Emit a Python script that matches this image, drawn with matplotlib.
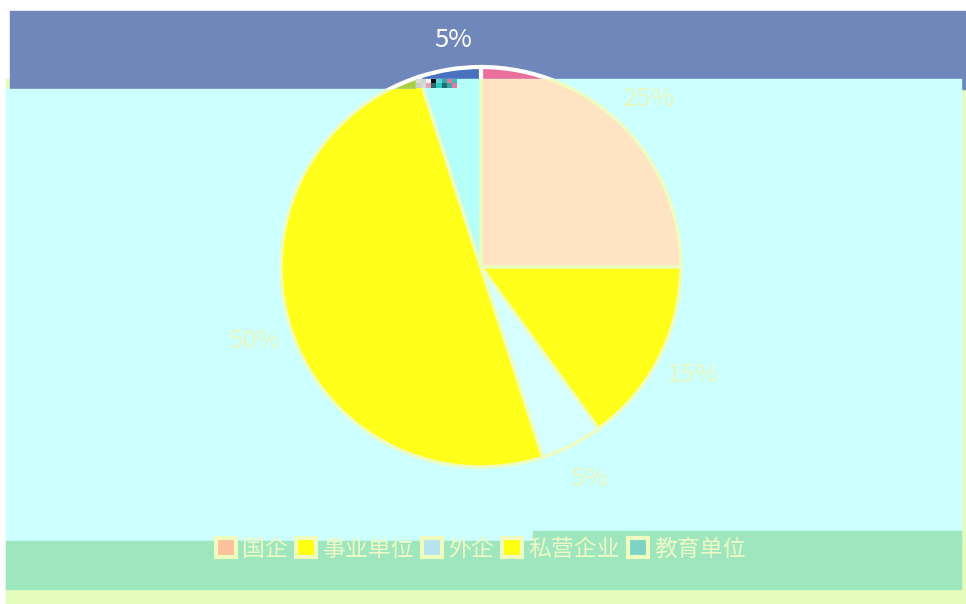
import numpy as np
import matplotlib.pyplot as plt
from matplotlib.colors import to_rgb
from matplotlib.patches import Rectangle, Patch
from matplotlib.path import Path

plt.rcParams['font.family'] = ['Noto Sans CJK SC', 'DejaVu Sans']

# data
labels = ['国企', '事业单位', '外企', '私营企业', '教育单位']
values = [25, 15, 5, 50, 5]
pie_colors = ['#ffe4c4', '#ffff1a', '#d6ffff', '#ffff1a', '#b5fffa']
orig_colors = ['#e8709a', '#f2c14e', '#8ccfe0', '#a8cf45', '#4a70c0']
legend_colors = ['#fcc09a', '#ffff10', '#b8e3ee', '#ffff10', '#7dd4c6']

W, H = 966, 604
center = (481, 267)
radius = 200

fig = plt.figure(figsize=(W / 100, H / 100), dpi=100, facecolor='white')
ax = fig.add_axes([0, 0, 1, 1])

# background blocks (pixel coords, y down)
ax.add_patch(Rectangle((6, 79), 960, 525, color='#e4fcbc', zorder=0))
ax.add_patch(Rectangle((10, 11), 956, 78, color='#6f87bb', zorder=1))
ax.add_patch(Rectangle((6, 89), 955, 452, color='#ccffff', zorder=3))
ax.add_patch(Rectangle((416, 79), 545, 12, color='#ccffff', zorder=3))
ax.add_patch(Rectangle((6, 541), 955, 48, color='#9ee6bd', zorder=3))
ax.add_patch(Rectangle((533, 531), 428, 12, color='#9ee6bd', zorder=3))

top_path = Path([(0, 11), (966, 11), (966, 79), (416, 79), (416, 89), (0, 89), (0, 11)], closed=True)
low_path = Path([(0, 89), (416, 89), (416, 79), (966, 79), (966, 604), (0, 604), (0, 89)], closed=True)

# original pie, only its top shows in the blue band
w1, _ = ax.pie(values, colors=orig_colors, center=center, radius=radius,
               startangle=-90, counterclock=True, frame=True,
               wedgeprops=dict(edgecolor='white', linewidth=3))

# glitched pie on the cyan panel
w2, _, autotexts = ax.pie(values, colors=pie_colors, center=center, radius=radius,
                          startangle=-90, counterclock=True, frame=True,
                          autopct='%d%%', pctdistance=1.19,
                          wedgeprops=dict(edgecolor='#eefcc0', linewidth=2.5),
                          textprops=dict(fontsize=18.5, color='#e6f8c0'))

ax.set_xlim(0, W)
ax.set_ylim(H, 0)
ax.set_aspect('auto')
ax.axis('off')

for w in w1:
    w.set_zorder(2)
    w.set_clip_on(True)
    w.set_clip_path(top_path, ax.transData)
for w in w2:
    w.set_zorder(4)
    w.set_clip_on(True)
    w.set_clip_path(low_path, ax.transData)
for t in autotexts:
    t.set_zorder(6)
autotexts[-1].set_color('white')
autotexts[-1].set_position((453, 40))

# small corrupted pixel block near the top of the pie
glitch = np.array([[to_rgb(c) for c in ['#d8ddd6', '#cfd6d0', '#f4f4f4', '#101010', '#5ed6d2', '#3aa8a8', '#e07aa0', '#46b6b8']],
                   [to_rgb(c) for c in ['#c8d0c4', '#d6dcd4', '#e8a0b8', '#2a6e70', '#2ec8c8', '#1e6e70', '#3aa8a8', '#e07aa0']]])
ax.imshow(glitch, extent=(416, 457, 88, 79), aspect='auto', interpolation='nearest', zorder=5)
ax.set_xlim(0, W)
ax.set_ylim(H, 0)

handles = [Patch(facecolor=c, edgecolor='#eefcc0', linewidth=3) for c in legend_colors]
leg = fig.legend(handles, labels, loc='center', bbox_to_anchor=(481 / W, 1 - 549 / H),
                 ncol=5, frameon=False, fontsize=16.5, labelcolor='#eef9c6',
                 handlelength=0.85, handleheight=0.85, handletextpad=0.3,
                 columnspacing=0.35, borderpad=0)
leg.set_zorder(10)

fig.savefig('out.png', dpi=100, facecolor='white')
